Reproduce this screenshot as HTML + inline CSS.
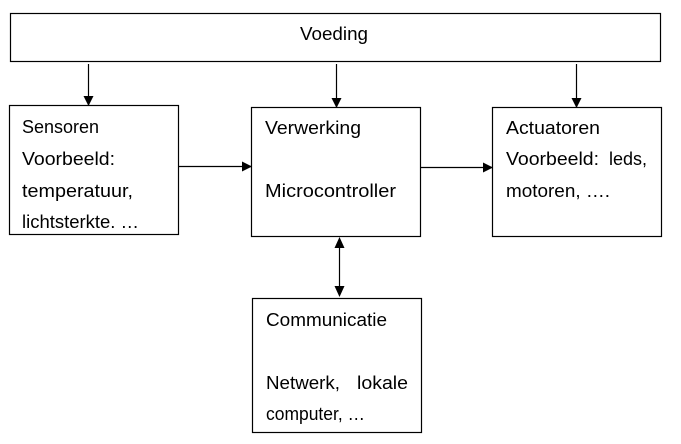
<!DOCTYPE html>
<html><head><meta charset="utf-8"><style>
html,body{margin:0;padding:0;background:#fff;width:681px;height:444px;overflow:hidden}
svg text{font-family:"Liberation Sans",sans-serif;font-size:18px;fill:#000}
</style></head><body>
<svg width="681" height="444" viewBox="0 0 681 444" xmlns="http://www.w3.org/2000/svg">
<defs><marker id="a" markerWidth="10" markerHeight="10" refX="9" refY="5" orient="auto" markerUnits="userSpaceOnUse"><path d="M0,0 L10,5 L0,10 z" fill="#000"/></marker></defs>
<g fill="none" stroke="#000" stroke-width="1.2">
<rect x="10.5" y="13.5" width="650" height="48"/>
<rect x="9.5" y="105.5" width="169" height="129"/>
<rect x="251.5" y="107.5" width="169" height="129"/>
<rect x="492.5" y="107.5" width="169" height="129"/>
<rect x="252.5" y="298.5" width="169" height="134"/>
<line x1="88.5" y1="64" x2="88.5" y2="105" marker-end="url(#a)"/>
<line x1="336.5" y1="64" x2="336.5" y2="107" marker-end="url(#a)"/>
<line x1="576.5" y1="64" x2="576.5" y2="107" marker-end="url(#a)"/>
<line x1="179" y1="166.5" x2="251" y2="166.5" marker-end="url(#a)"/>
<line x1="421" y1="167.5" x2="492" y2="167.5" marker-end="url(#a)"/>
<line x1="339.5" y1="247" x2="339.5" y2="287"/>
</g>
<path d="M339.5,237 L334.5,248 L344.5,248 z M339.5,297 L334.5,286 L344.5,286 z" fill="#000"/>
<text x="300" y="40" textLength="68" lengthAdjust="spacingAndGlyphs">Voeding</text>
<text x="22" y="133" textLength="77" lengthAdjust="spacingAndGlyphs">Sensoren</text>
<text x="22" y="165" textLength="93" lengthAdjust="spacingAndGlyphs">Voorbeeld:</text>
<text x="22" y="197" textLength="111" lengthAdjust="spacingAndGlyphs">temperatuur,</text>
<text x="22" y="228" textLength="117" lengthAdjust="spacingAndGlyphs">lichtsterkte. …</text>
<text x="265" y="134" textLength="96" lengthAdjust="spacingAndGlyphs">Verwerking</text>
<text x="265" y="197" textLength="131" lengthAdjust="spacingAndGlyphs">Microcontroller</text>
<text x="506" y="134" textLength="94" lengthAdjust="spacingAndGlyphs">Actuatoren</text>
<text x="506" y="165" textLength="93" lengthAdjust="spacingAndGlyphs">Voorbeeld:</text>
<text x="609" y="165" textLength="38" lengthAdjust="spacingAndGlyphs">leds,</text>
<text x="506" y="197" textLength="104" lengthAdjust="spacingAndGlyphs">motoren, ….</text>
<text x="266" y="326" textLength="121" lengthAdjust="spacingAndGlyphs">Communicatie</text>
<text x="266" y="389" textLength="74" lengthAdjust="spacingAndGlyphs">Netwerk,</text>
<text x="357" y="389" textLength="51" lengthAdjust="spacingAndGlyphs">lokale</text>
<text x="266" y="420" textLength="99" lengthAdjust="spacingAndGlyphs">computer, …</text>
</svg>
</body></html>
